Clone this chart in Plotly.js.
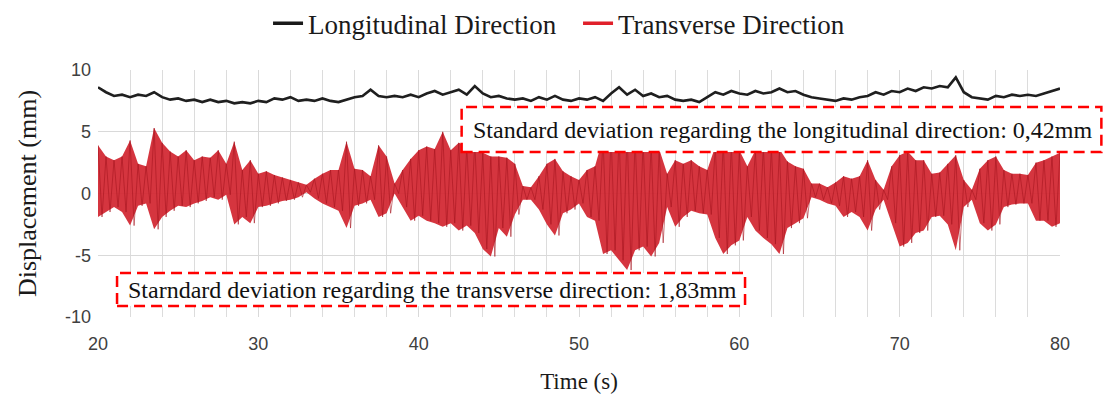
<!DOCTYPE html>
<html>
<head>
<meta charset="utf-8">
<script src="https://cdn.plot.ly/plotly-3.0.1.min.js"></script>
<style>
  html, body { margin: 0; padding: 0; background: #ffffff; }
  #chart { width: 1105px; height: 394px; }
</style>
</head>
<body>
<div id="chart"></div>
<script>
// Sample start / step (s) of the read-off series
const timeStart = 20;
const timeStep = 0.5;

// Longitudinal displacement (mm), read every 0.5 s from 20 s to 80 s
const longitudinal = [
  8.6, 8.2, 7.9, 8.0, 7.8, 8.0, 7.9, 8.2, 7.8, 7.6,
  7.7, 7.5, 7.6, 7.4, 7.6, 7.4, 7.5, 7.3, 7.4, 7.3,
  7.5, 7.4, 7.7, 7.6, 7.8, 7.5, 7.6, 7.5, 7.7, 7.5,
  7.4, 7.6, 7.8, 7.9, 8.4, 7.9, 7.8, 7.9, 7.8, 8.0,
  7.8, 8.1, 8.3, 8.0, 8.2, 8.4, 8.0, 8.7, 8.1, 7.8,
  7.9, 7.7, 7.6, 7.7, 7.5, 7.8, 7.6, 7.9, 7.6, 7.5,
  7.7, 7.6, 7.8, 7.5, 8.1, 8.6, 8.0, 8.4, 7.9, 8.1,
  7.8, 7.9, 7.6, 7.5, 7.6, 7.4, 7.8, 8.2, 8.0, 8.3,
  8.1, 8.0, 8.3, 8.1, 8.2, 8.5, 8.2, 8.3, 8.0, 7.8,
  7.7, 7.6, 7.5, 7.7, 7.6, 7.8, 7.9, 8.2, 8.0, 8.3,
  8.2, 8.5, 8.3, 8.6, 8.5, 8.7, 8.6, 9.4, 8.2, 7.8,
  7.7, 7.6, 7.9, 7.8, 8.0, 7.9, 8.0, 7.9, 8.1, 8.3,
  8.5
];

// Transverse displacement (mm): positive peaks, read every 0.5 s
const transversePeaks = [
  3.9, 3.0, 2.7, 3.0, 4.3, 2.4, 2.2, 5.3, 4.1, 3.4,
  3.0, 3.5, 2.7, 3.0, 2.9, 3.5, 2.4, 4.2, 1.9, 2.7,
  1.6, 1.8, 1.5, 1.3, 1.1, 0.9, 0.7, 1.2, 1.6, 1.9,
  1.9, 4.2, 2.0, 1.9, 1.4, 3.9, 3.0, 0.8, 1.9, 2.8,
  3.5, 3.8, 3.6, 5.0, 3.5, 4.1, 3.8, 4.1, 3.3, 3.0,
  3.0, 2.9, 2.4, 0.6, 0.5, 1.4, 2.4, 2.8, 1.8, 1.4,
  1.1, 1.9, 2.2, 4.5, 4.8, 4.8, 5.0, 4.5, 4.2, 4.0,
  3.6, 1.6, 2.7, 2.4, 2.7, 2.2, 1.9, 3.8, 4.2, 4.0,
  3.5, 2.2, 3.5, 3.8, 3.8, 3.6, 2.6, 2.2, 2.0, 0.8,
  0.8, 0.5, 0.9, 1.4, 1.2, 1.4, 2.7, 1.1, 0.3, 2.2,
  3.1, 3.4, 2.7, 2.7, 1.6, 1.7, 2.4, 3.1, 1.1, 0.3,
  2.0, 2.7, 3.0, 1.9, 1.6, 1.6, 1.5, 2.5, 2.7, 3.0,
  3.3
];

// Transverse displacement (mm): negative troughs, read every 0.5 s
const transverseTroughs = [
  -1.9, -1.5, -1.1, -1.5, -2.6, -1.0, -0.8, -2.9, -1.9, -1.4,
  -1.0, -1.1, -0.8, -0.6, -0.3, -0.5, -0.1, -2.5, -1.9, -2.4,
  -1.1, -1.0, -0.8, -0.6, -0.5, -0.3, 0.1, -0.4, -0.8, -1.1,
  -1.4, -2.8, -1.0, -0.8, -0.5, -1.9, -1.6, 0.0, -1.1, -2.2,
  -1.8, -2.2, -2.4, -2.7, -2.4, -3.0, -2.6, -3.2, -4.5, -5.1,
  -2.8, -3.5, -1.7, -0.5, -0.5, -1.3, -2.5, -3.4, -1.6, -1.3,
  -0.8, -1.9, -2.2, -4.9, -4.6, -5.4, -6.2, -4.6, -4.3, -5.1,
  -4.0, -1.1, -2.7, -1.9, -1.4, -1.6, -1.7, -3.6, -4.9, -4.2,
  -3.8, -1.9, -3.0, -3.6, -4.1, -4.9, -2.8, -2.4, -2.0, -0.3,
  -0.5, -0.8, -1.0, -1.9, -1.5, -1.9, -3.0, -1.3, -0.5, -2.4,
  -4.3, -4.0, -3.2, -3.0, -1.9, -1.8, -2.5, -4.6, -1.1, -0.5,
  -2.4, -3.0, -2.5, -1.1, -0.9, -0.8, -0.8, -2.2, -2.2, -2.7,
  -2.4
];

// Axis tick values / labels
const yTickVals = [-10, -5, 0, 5, 10];
const yTickText = ['-10', '-5', '0', '5', '10'];

// Annotation texts
const noteLongitudinal = "Standard deviation regarding the longitudinal direction: 0,42mm";
const noteTransverse = "Starndard deviation regarding the transverse direction: 1,83mm";

const SERIF = "Liberation Serif, Times New Roman, serif";
const SANS = "Liberation Sans, Arial, sans-serif";

// sample times
const times = longitudinal.map((_, i) => timeStart + i * timeStep);

// transverse oscillation: peak at sample time, trough half-way to the next sample
const zigX = [], zigY = [];
for (let i = 0; i < times.length; i++) {
  zigX.push(times[i]); zigY.push(transversePeaks[i]);
  if (i < times.length - 1) { zigX.push(times[i] + timeStep / 2); zigY.push(transverseTroughs[i]); }
}

const traces = [
  { x: times, y: transverseTroughs, mode: 'lines', line: { width: 0, color: 'rgba(0,0,0,0)' },
    showlegend: false, hoverinfo: 'skip' },
  { x: times, y: transversePeaks, mode: 'lines', line: { width: 0, color: 'rgba(0,0,0,0)' },
    fill: 'tonexty', fillcolor: 'rgba(210,38,48,0.93)', showlegend: false, hoverinfo: 'skip' },
  { x: zigX, y: zigY, mode: 'lines', line: { width: 0.7, color: 'rgba(165,20,30,0.85)' },
    showlegend: false },
  { x: times, y: longitudinal, mode: 'lines', line: { width: 2.6, color: '#1f1f1f' },
    showlegend: false },
  // legend entries
  { x: [null], y: [null], mode: 'lines', name: 'Longitudinal Direction',
    line: { width: 3.5, color: '#1a1a1a' } },
  { x: [null], y: [null], mode: 'lines', name: 'Transverse Direction',
    line: { width: 3.5, color: '#e0202a' } }
];

const layout = {
  width: 1105, height: 394,
  margin: { l: 98, r: 45, t: 70, b: 77 },
  paper_bgcolor: '#ffffff', plot_bgcolor: '#ffffff',
  showlegend: true,
  legend: { orientation: 'h', traceorder: 'normal',
    xref: 'paper', x: 0.499, xanchor: 'center',
    yref: 'container', y: 0.94, yanchor: 'middle',
    entrywidth: 265, entrywidthmode: 'pixels',
    font: { family: SERIF, size: 27, color: '#1a1a1a' }, itemwidth: 30 },
  xaxis: {
    range: [20, 80], dtick: 10, tick0: 20,
    showgrid: true, gridcolor: '#d9d9d9', gridwidth: 1,
    minor: { dtick: 2, showgrid: true, gridcolor: '#dcdcdc', gridwidth: 1 },
    zeroline: false, showline: false, ticks: '',
    ticklabelstandoff: 14,
    tickfont: { family: SANS, size: 18, color: '#404040' },
    title: { text: 'Time (s)', font: { family: SERIF, size: 23, color: '#1a1a1a' }, standoff: 20 }
  },
  yaxis: {
    range: [-10, 10], tickmode: 'array', tickvals: yTickVals, ticktext: yTickText,
    showgrid: true, gridcolor: '#d9d9d9', gridwidth: 1,
    zeroline: false, showline: false, ticks: '',
    ticklabelstandoff: 6,
    tickfont: { family: SANS, size: 18, color: '#404040' },
    title: { text: 'Displacement (mm)', font: { family: SERIF, size: 26, color: '#1a1a1a' }, standoff: 20 }
  },
  shapes: [
    { type: 'rect', xref: 'paper', yref: 'paper', x0: 0.378, x1: 1.043, y0: 0.668, y1: 0.850,
      line: { color: '#ff0000', width: 2.5, dash: '11px,6px' }, fillcolor: '#ffffff', layer: 'above' },
    { type: 'rect', xref: 'paper', yref: 'paper', x0: 0.0198, x1: 0.6726, y0: 0.0445, y1: 0.178,
      line: { color: '#ff0000', width: 2.5, dash: '11px,6px' }, fillcolor: '#ffffff', layer: 'above' }
  ],
  annotations: [
    { text: noteLongitudinal, xref: 'paper', yref: 'paper', x: 0.388, y: 0.757,
      xanchor: 'left', yanchor: 'middle', showarrow: false,
      font: { family: SERIF, size: 24, color: '#111111' } },
    { text: noteTransverse, xref: 'paper', yref: 'paper', x: 0.029, y: 0.111,
      xanchor: 'left', yanchor: 'middle', showarrow: false,
      font: { family: SERIF, size: 24, color: '#111111' } }
  ]
};

Plotly.newPlot('chart', traces, layout, { displayModeBar: false, staticPlot: true });
</script>
</body>
</html>
